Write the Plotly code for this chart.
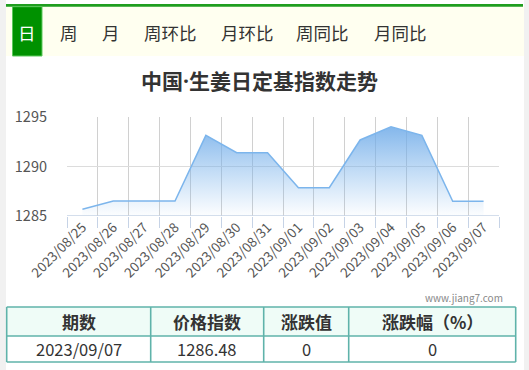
import plotly.graph_objects as go

W, H = 529, 370

dates = ["2023/08/25", "2023/08/26", "2023/08/27", "2023/08/28", "2023/08/29",
         "2023/08/30", "2023/08/31", "2023/09/01", "2023/09/02", "2023/09/03",
         "2023/09/04", "2023/09/05", "2023/09/06", "2023/09/07"]
index_values = [1285.68, 1286.52, 1286.52, 1286.52, 1293.15, 1291.40, 1291.40,
                1287.86, 1287.86, 1292.68, 1294.00, 1293.15, 1286.48, 1286.48]
y_ticks = [1285, 1290, 1295]

tabs = ["日", "周", "月", "周环比", "月环比", "周同比", "月同比"]
tab_centers = [27, 69, 111, 170, 247, 323, 400]

table_header = ["期数", "价格指数", "涨跌值", "涨跌幅（%）"]
table_row = ["2023/09/07", "1286.48", "0", "0"]
col_widths = [144, 113, 85, 167]

FONT = "Microsoft YaHei, Noto Sans CJK SC, sans-serif"


def px(x):
    return x / W


def py(y):
    return 1 - y / H


fig = go.Figure()

fig.add_trace(go.Scatter(
    x=dates, y=index_values, mode="lines",
    line=dict(color="#7cb5ec", width=1.5),
    fill="tozeroy",
    fillgradient=dict(type="vertical", start=1285, stop=1295,
                      colorscale=[[0, "rgba(124,181,236,0.02)"],
                                  [1, "rgba(110,170,232,0.95)"]]),
    hoverinfo="skip", showlegend=False,
))

shapes = [
    dict(type="rect", xref="paper", yref="paper", x0=0, x1=px(6), y0=0, y1=1,
         fillcolor="#f1f1f1", line_width=0, layer="below"),
    dict(type="rect", xref="paper", yref="paper", x0=px(524), x1=1, y0=0, y1=1,
         fillcolor="#f1f1f1", line_width=0, layer="below"),
    dict(type="rect", xref="paper", yref="paper", x0=px(6), x1=px(524), y0=py(56), y1=py(6.5),
         fillcolor="#fffff0", line_width=0, layer="below"),
    dict(type="rect", xref="paper", yref="paper", x0=px(6), x1=px(523), y0=py(6.7), y1=py(4),
         fillcolor="#1f9e1f", line_width=0, layer="below"),
    dict(type="rect", xref="paper", yref="paper", x0=px(12.5), x1=px(42), y0=py(56), y1=py(6.7),
         fillcolor="#009100", line=dict(color="#5cc95c", width=1), layer="below"),
]

annotations = []
for t, cx in zip(tabs, tab_centers):
    annotations.append(dict(
        text=t, x=px(cx), y=py(32), xref="paper", yref="paper",
        showarrow=False, xanchor="center", yanchor="middle",
        font=dict(family=FONT, size=17.5, color="white" if t == "日" else "#333")))

annotations.append(dict(
    text="<b>中国<span style=\"font-family:'Open Sans'\">·</span>生姜日定基指数走势</b>",
    x=px(259), y=py(80), xref="paper", yref="paper",
    showarrow=False, xanchor="center", yanchor="middle",
    font=dict(family=FONT, size=21, color="#333")))

annotations.append(dict(
    text="www.jiang7.com", x=px(505), y=py(297), xref="paper", yref="paper",
    showarrow=False, xanchor="right", yanchor="middle",
    font=dict(family=FONT, size=10, color="#888")))

# table drawn from the data lists
tx0, ty0, ty1, ty2 = 6.7, 307, 336, 362
bounds = [tx0]
for w in col_widths:
    bounds.append(bounds[-1] + w)
border = "#5fb3aa"
shapes.append(dict(type="rect", xref="paper", yref="paper", x0=px(bounds[0]), x1=px(bounds[-1]),
                   y0=py(ty1), y1=py(ty0), fillcolor="#effcf7", line_width=0, layer="below"))
for yy in (ty0, ty1, ty2):
    shapes.append(dict(type="line", xref="paper", yref="paper", x0=px(bounds[0]), x1=px(bounds[-1]),
                       y0=py(yy), y1=py(yy), line=dict(color=border, width=1.6)))
for xx in bounds:
    shapes.append(dict(type="line", xref="paper", yref="paper", x0=px(xx), x1=px(xx),
                       y0=py(ty2), y1=py(ty0), line=dict(color=border, width=1.6)))
for i, (h, v) in enumerate(zip(table_header, table_row)):
    cx = (bounds[i] + bounds[i + 1]) / 2
    annotations.append(dict(text="<b>%s</b>" % h, x=px(cx), y=py((ty0 + ty1) / 2),
                            xref="paper", yref="paper", showarrow=False,
                            xanchor="center", yanchor="middle",
                            font=dict(family=FONT, size=17, color="#333")))
    annotations.append(dict(text=v, x=px(cx), y=py((ty1 + ty2) / 2),
                            xref="paper", yref="paper", showarrow=False,
                            xanchor="center", yanchor="middle",
                            font=dict(family=FONT, size=16.5, color="#333")))

fig.update_layout(
    width=W, height=H,
    margin=dict(l=0, r=0, t=0, b=0),
    paper_bgcolor="white", plot_bgcolor="white",
    shapes=shapes, annotations=annotations,
    xaxis=dict(
        domain=[px(67), px(499)], type="category", range=[-0.5, 13.5],
        tickson="boundaries", ticks="outside", ticklen=11, tickcolor="#c6d3e6",
        showgrid=True, gridcolor="#d0d0d0", gridwidth=1,
        showline=False, zeroline=False, tickangle=-45,
        tickfont=dict(family=FONT, size=13.5, color="#555"),
        automargin=False, fixedrange=True,
    ),
    yaxis=dict(
        domain=[py(216), py(117)], range=[1285, 1295],
        tickvals=y_ticks, ticks="", showgrid=True, gridcolor="#dcdcdc", gridwidth=1,
        showline=False, zeroline=False,
        tickfont=dict(family=FONT, size=14.5, color="#555"),
        automargin=False, fixedrange=True, ticklabelstandoff=19,
    ),
)

fig.add_shape(type="line", xref="x domain", yref="y", x0=0, x1=1, y0=1285, y1=1285,
              line=dict(color="#c6d3e6", width=1.5))

fig.write_html("out.html")
